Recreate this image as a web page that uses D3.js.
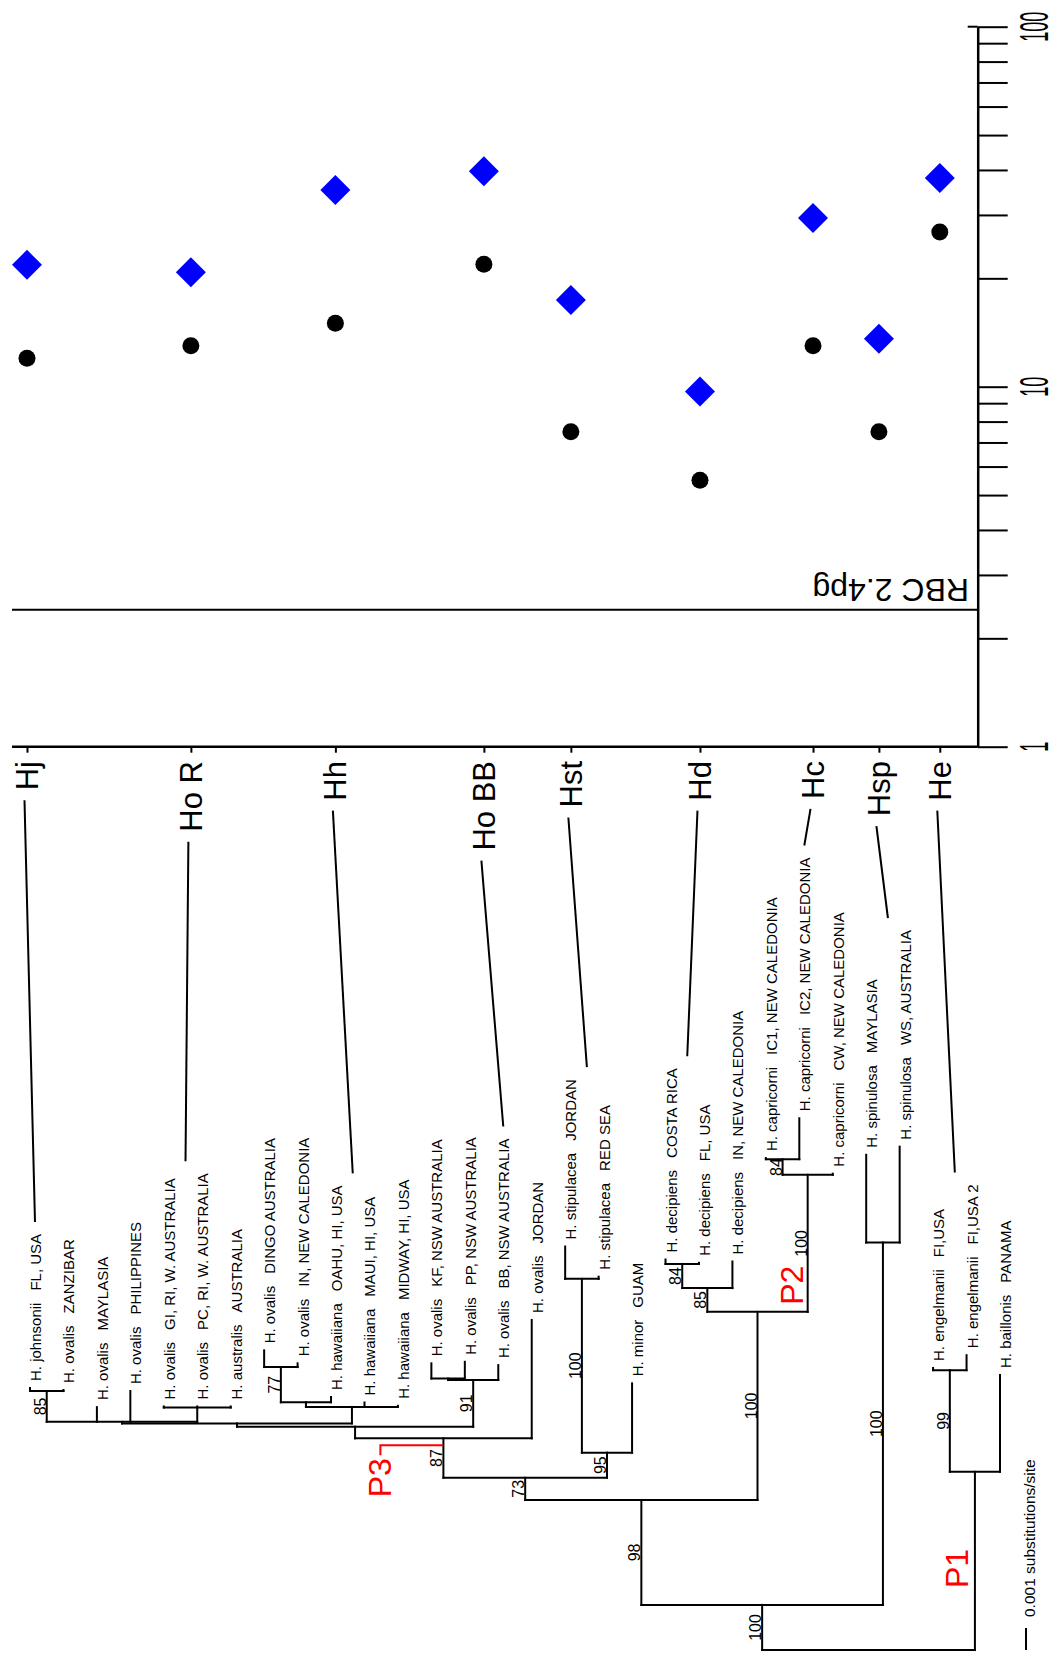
<!DOCTYPE html>
<html>
<head>
<meta charset="utf-8">
<script src="https://cdn.jsdelivr.net/npm/d3@7"></script>
<style>
  body { margin: 0; background: #fff; }
  svg { display: block; font-family: "Liberation Sans", Arial, sans-serif; }
</style>
</head>
<body>
<svg id="fig" width="1059" height="1658"></svg>
<script>
// tips of the tree, left to right
const leafSpecies = ["H. johnsonii", "H. ovalis", "H. ovalis", "H. ovalis", "H. ovalis", "H. ovalis",
  "H. australis", "H. ovalis", "H. ovalis", "H. hawaiiana", "H. hawaiiana", "H. hawaiiana",
  "H. ovalis", "H. ovalis", "H. ovalis", "H. ovalis", "H. stipulacea", "H. stipulacea", "H. minor",
  "H. decipiens", "H. decipiens", "H. decipiens", "H. capricorni", "H. capricorni", "H. capricorni",
  "H. spinulosa", "H. spinulosa", "H. engelmanii", "H. engelmanii", "H. baillonis"];
const leafSites = ["FL, USA", "ZANZIBAR", "MAYLASIA", "PHILIPPINES", "GI, RI, W. AUSTRALIA",
  "PC, RI, W. AUSTRALIA", "AUSTRALIA", "DINGO AUSTRALIA", "IN, NEW CALEDONIA", "OAHU, HI, USA",
  "MAUI, HI, USA", "MIDWAY, HI, USA", "KF, NSW AUSTRALIA", "PP, NSW AUSTRALIA", "BB, NSW AUSTRALIA",
  "JORDAN", "JORDAN", "RED SEA", "GUAM", "COSTA RICA", "FL, USA", "IN, NEW CALEDONIA",
  "IC1, NEW CALEDONIA", "IC2, NEW CALEDONIA", "CW, NEW CALEDONIA", "MAYLASIA", "WS, AUSTRALIA",
  "FI,USA", "FI,USA 2", "PANAMA"];
const leafParent = ["R", "R", "LG", "LG", "S", "S", "S", "Q", "Q", "P", "HW", "HW", "N", "N", "M", "F",
  "H", "H", "G", "Dec84", "Dec84", "Dec", "Cap84", "Cap84", "Cap", "Spin", "Spin", "Eng", "Eng", "P1n"];
// branch lengths in units of 0.001 substitutions/site
const leafLen = [0.14, 0.05, 0.67, 1.4, 0.05, 0.05, 0.05, 0.76, 0.17, 0.24, 0.2, 0.05, 0.69, 0.76, 0.68,
  5.38, 1.47, 0.1, 3.15, 0.2, 0.05, 1.21, 0.05, 1.86, 0.05, 3.99, 4.36, 0.1, 0.68, 4.4];

// internal nodes
const nodeIds = ["root", "A", "P1n", "Eng", "B", "Spin", "D", "E", "Dec", "Dec84", "Cap", "Cap84",
  "F", "G", "H", "I", "L", "M", "N", "LG", "R", "S", "HW", "P", "Q"];
const nodeParent = [null, "root", "root", "P1n", "A", "A", "B", "B", "E", "Dec", "E", "Cap",
  "D", "D", "G", "F", "I", "I", "M", "L", "LG", "LG", "L", "HW", "P"];
const nodeLen = [0, 2.05, 8.1, 4.62, 4.77, 16.47, 1.01, 8.55, 1.08, 1.1, 6.23, 0.71,
  1.79, 1.14, 7.9, 0.53, 0.15, 2.12, 0.07, 0.07, 1.4, 0.65, 0.75, 0.21, 1.6];
const nodeSupport = ["", "100", "", "99", "98", "100", "73", "100", "85", "84", "100", "84",
  "87", "95", "100", "", "", "91", "", "", "85", "", "", "", "77"];

// clade marks in red
const cladeMarks = ["P1", "P2", "P3"];
const cladeNodes = ["P1n", "Cap", "F"];

// species groups and their measured values
const groups = ["Hj", "Ho R", "Hh", "Ho BB", "Hst", "Hd", "Hc", "Hsp", "He"];
const groupSlot = [-0.09, 4.81, 9.13, 13.57, 16.17, 20.03, 23.41, 25.38, 27.2]; // along the tip axis
const groupLeaves = [[0], [4, 5], [9, 10], [14], [16, 17], [19, 20], [22, 23, 24], [25, 26], [27, 28]];
const diamondPg = [21.8, 20.8, 35.2, 39.7, 17.4, 9.7, 29.4, 13.6, 38.0];
const dotPg = [12.0, 13.0, 15.0, 21.9, 7.5, 5.5, 13.0, 7.5, 26.9];

const yTicks = [1, 2, 3, 4, 5, 6, 7, 8, 9, 10, 20, 30, 40, 50, 60, 70, 80, 90, 100];
const yLabels = [1, 10, 100];
const rbcPg = 2.4;
const rbcText = "RBC 2.4pg";
const scaleText = "0.001 substitutions/site";

const svg = d3.select("#fig");
const red = "#ff0000";

// scales
const x = d3.scaleLinear().domain([0, leafSpecies.length - 1]).range([30, 1000]);
const depth = d3.scaleLinear().domain([0, 1]).range([1650, 1628]);
const y = d3.scaleLog().domain([1, 100]).range([746.7, 26.7]);
const axisX = 977.7, plotLeft = 12;

// build the tree
const rows = nodeIds.map((id, i) => ({ id, parent: nodeParent[i], bl: nodeLen[i], support: nodeSupport[i] }))
  .concat(leafSpecies.map((s, i) => ({ id: "L" + i, parent: leafParent[i], bl: leafLen[i], leaf: i })));
const tree = d3.stratify().id(d => d.id).parentId(d => d.parent)(rows);

tree.eachBefore(n => {
  n.len = n.parent ? n.parent.len + n.data.bl : 0;
  n.py = depth(n.len);
});
tree.eachAfter(n => {
  if (n.children) {
    const xs = n.children.map(c => c.px);
    n.lo = d3.min(xs);
    n.hi = d3.max(xs);
    n.px = (n.lo + n.hi) / 2;
  } else {
    n.px = x(n.data.leaf);
  }
});
const byId = new Map(tree.descendants().map(n => [n.id, n]));

const segs = [];
tree.each(n => {
  if (n.parent) segs.push([n.px, n.parent.py, n.px, n.py]);
  if (n.children) segs.push([n.lo, n.py, n.hi, n.py]);
});

svg.append("g")
  .attr("stroke", "#000")
  .attr("stroke-width", 2)
  .attr("stroke-linecap", "square")
  .selectAll("line")
  .data(segs)
  .join("line")
  .attr("x1", d => d[0]).attr("y1", d => d[1])
  .attr("x2", d => d[2]).attr("y2", d => d[3]);

// bootstrap values
svg.append("g")
  .attr("font-size", 16)
  .attr("text-anchor", "middle")
  .selectAll("text")
  .data(tree.descendants().filter(n => n.data.support))
  .join("text")
  .attr("transform", n => `translate(${n.px - 1},${(n.py + n.parent.py) / 2}) rotate(-90)`)
  .text(n => n.data.support);

// tip labels
const leaves = tree.leaves().sort((a, b) => a.data.leaf - b.data.leaf);
const tipLabels = svg.append("g")
  .attr("font-size", 15)
  .selectAll("text")
  .data(leaves)
  .join("text")
  .attr("transform", n => `translate(${n.px + 11},${n.py - 7}) rotate(-90)`);
tipLabels.append("tspan").text(n => leafSpecies[n.data.leaf]);
tipLabels.append("tspan").attr("dx", 12).text(n => leafSites[n.data.leaf]);
const tipTop = [];
tipLabels.each(function (n) {
  const b = this.getBBox();
  tipTop[n.data.leaf] = n.py - 7 - (b.x + b.width);
});

// clade marks
cladeMarks.forEach((m, i) => {
  const n = byId.get(cladeNodes[i]);
  let tx, ty;
  if (m === "P1") { tx = n.px - 7; ty = tree.py - 62; }
  if (m === "P2") { tx = n.px - 5; ty = n.parent.py - 7; }
  if (m === "P3") {
    tx = n.px - 52; ty = n.py + 59;
    svg.append("path")
      .attr("d", `M${n.px},${n.py + 7}H${n.px - 63}V${n.py + 17}`)
      .attr("fill", "none").attr("stroke", red).attr("stroke-width", 2);
  }
  svg.append("text")
    .attr("transform", `translate(${tx},${ty}) rotate(-90)`)
    .attr("font-size", 32)
    .attr("fill", red)
    .text(m);
});

// scale bar
svg.append("line")
  .attr("x1", 1026).attr("x2", 1026)
  .attr("y1", depth(0)).attr("y2", depth(1))
  .attr("stroke", "#000").attr("stroke-width", 2);
svg.append("text")
  .attr("transform", `translate(1035,${depth(0) - 33}) rotate(-90)`)
  .attr("font-size", 15.5)
  .text(scaleText);

// ---- measurement panel ----
// baseline and RBC reference line
svg.append("line")
  .attr("x1", plotLeft).attr("x2", axisX)
  .attr("y1", y(1)).attr("y2", y(1))
  .attr("stroke", "#000").attr("stroke-width", 2.5);
svg.append("line")
  .attr("x1", plotLeft).attr("x2", axisX)
  .attr("y1", y(rbcPg)).attr("y2", y(rbcPg))
  .attr("stroke", "#000").attr("stroke-width", 2);
svg.append("text")
  .attr("transform", `translate(969,${y(rbcPg) - 31}) rotate(180)`)
  .attr("font-size", 32)
  .text(rbcText);

// log axis on the right
const yAxis = svg.append("g")
  .attr("transform", `translate(${axisX},0)`)
  .call(d3.axisRight(y).tickValues(yTicks).tickSize(30).tickSizeOuter(0).tickFormat(""));
yAxis.select(".domain").attr("stroke-width", 2.5);
yAxis.selectAll(".tick line").attr("stroke-width", 2);
yAxis.append("line")
  .attr("x1", -10).attr("x2", 0)
  .attr("y1", y(100)).attr("y2", y(100))
  .attr("stroke", "#000").attr("stroke-width", 2);
svg.append("g")
  .attr("font-size", 40)
  .attr("text-anchor", "middle")
  .selectAll("text")
  .data(yLabels)
  .join("text")
  .attr("transform", v => `translate(1048,${y(v)}) rotate(-90) scale(0.45,1)`)
  .text(v => v);

// group ticks on the baseline
const xAxis = svg.append("g")
  .attr("transform", `translate(0,${y(1)})`)
  .call(d3.axisBottom(x).tickValues(groupSlot).tickSize(6).tickFormat(""));
xAxis.select(".domain").remove();
xAxis.selectAll(".tick line").attr("stroke-width", 2);

// group labels
const glabels = svg.append("g")
  .attr("font-size", 31)
  .attr("text-anchor", "end")
  .selectAll("text")
  .data(groups)
  .join("text")
  .attr("transform", (g, i) => `translate(${x(groupSlot[i]) + 11},761) rotate(-90)`)
  .text(g => g);

// leaders from group labels to the tips
const leaders = [];
glabels.each(function (g, i) {
  const len = this.getComputedTextLength();
  const ids = groupLeaves[i];
  leaders.push([
    x(groupSlot[i]) - 2.5, 761 + len + 10,
    d3.mean(ids, k => x(k) + 5), d3.min(ids, k => tipTop[k]) - 12
  ]);
});
svg.append("g")
  .attr("stroke", "#000")
  .attr("stroke-width", 2)
  .selectAll("line")
  .data(leaders)
  .join("line")
  .attr("x1", d => d[0]).attr("y1", d => d[1])
  .attr("x2", d => d[2]).attr("y2", d => d[3]);

// values
svg.append("g")
  .selectAll("path")
  .data(dotPg)
  .join("path")
  .attr("d", d3.symbol(d3.symbolCircle, 227))
  .attr("transform", (v, i) => `translate(${x(groupSlot[i])},${y(v)})`)
  .attr("fill", "#000");
svg.append("g")
  .selectAll("path")
  .data(diamondPg)
  .join("path")
  .attr("d", d3.symbol(d3.symbolSquare, 450))
  .attr("transform", (v, i) => `translate(${x(groupSlot[i])},${y(v)}) rotate(45)`)
  .attr("fill", "#0000ff");
</script>
</body>
</html>
